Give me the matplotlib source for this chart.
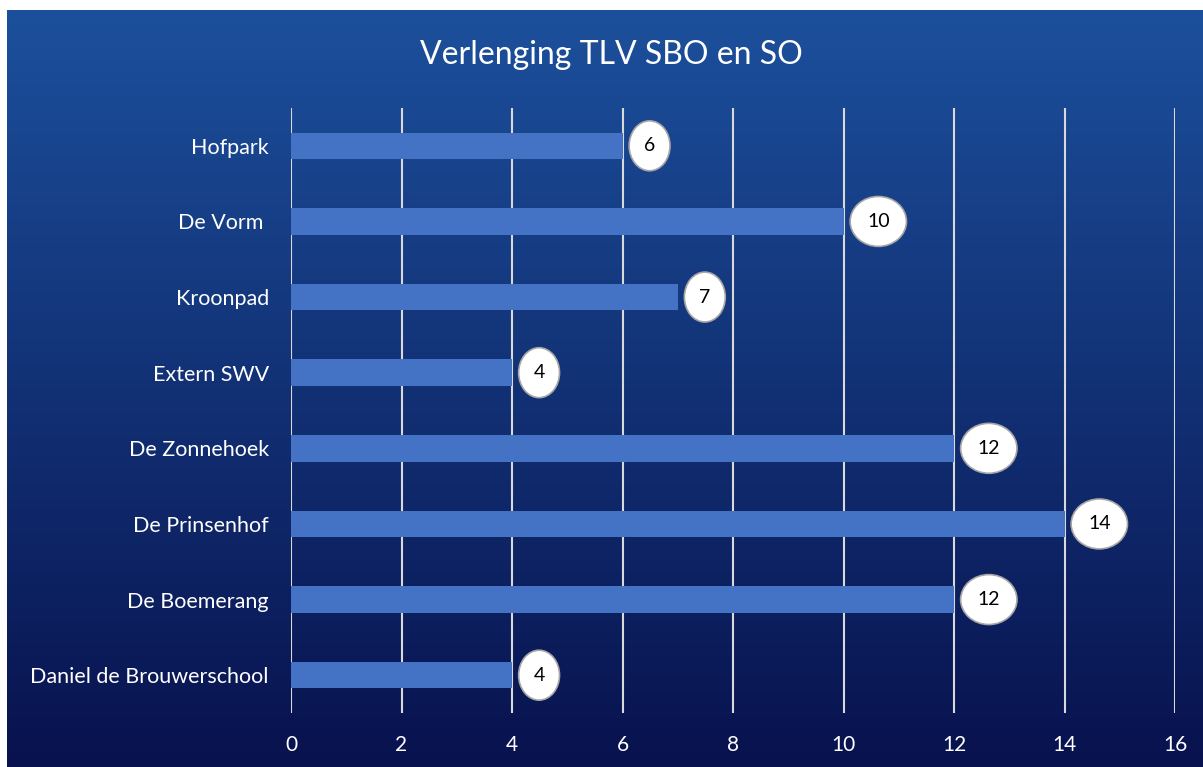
import matplotlib.pyplot as plt
import numpy as np
from matplotlib.patches import Ellipse

plt.rcParams['font.family'] = ['Lato', 'DejaVu Sans']

categories = ['Hofpark', 'De Vorm ', 'Kroonpad', 'Extern SWV', 'De Zonnehoek',
              'De Prinsenhof', 'De Boemerang', 'Daniel de Brouwerschool']
values = [6, 10, 7, 4, 12, 14, 12, 4]
xticks = [0, 2, 4, 6, 8, 10, 12, 14, 16]

bar_color = '#4472C4'
grid_color = '#d9d9d9'

fig = plt.figure(figsize=(12.03, 7.67), dpi=100)
fig.patch.set_facecolor('white')

# background gradient (dark blue, lighter at top)
bg = fig.add_axes([7 / 1203, 0, 1 - 7 / 1203, 1 - 10 / 767])
top = np.array([28, 80, 156]) / 255
bot = np.array([8, 18, 78]) / 255
t = np.linspace(0, 1, 256)[:, None]
grad = top[None, :] * (1 - t) + bot[None, :] * t
bg.imshow(grad[:, None, :].repeat(2, axis=1), aspect='auto', extent=[0, 1, 0, 1])
bg.set_axis_off()

ax = fig.add_axes([291 / 1203, 1 - 713 / 767, (1175 - 291) / 1203, (713 - 108) / 767])
ax.set_facecolor('none')
y = np.arange(len(categories))
ax.barh(y, values, height=0.35, color=bar_color, zorder=2)
ax.set_ylim(len(categories) - 0.5, -0.5)
ax.set_xlim(0, 16)
ax.set_xticks(xticks)
ax.set_yticks(y)
ax.set_yticklabels(categories)
ax.grid(axis='x', color=grid_color, linewidth=1.5, zorder=1)
ax.set_axisbelow(True)
for s in ax.spines.values():
    s.set_visible(False)
ax.tick_params(axis='x', length=0, pad=16, labelsize=15, labelcolor='white')
ax.tick_params(axis='y', length=0, pad=16, labelsize=15.5, labelcolor='white')

# data labels in white ellipses
for yi, v in zip(y, values):
    w = 0.74 if v < 10 else 1.02
    xc = v + w / 2 + 0.12
    ax.add_patch(Ellipse((xc, yi), w, 0.66, facecolor='white', edgecolor='#a6a6a6',
                         linewidth=1.2, zorder=3, clip_on=False))
    ax.text(xc, yi, str(v), ha='center', va='center', fontsize=14, color='black', zorder=4)

fig.text(611 / 1203, 1 - 55 / 767, 'Verlenging TLV SBO en SO', ha='center', va='center',
         fontsize=23, color='white')

fig.savefig('out.png', dpi=100)
